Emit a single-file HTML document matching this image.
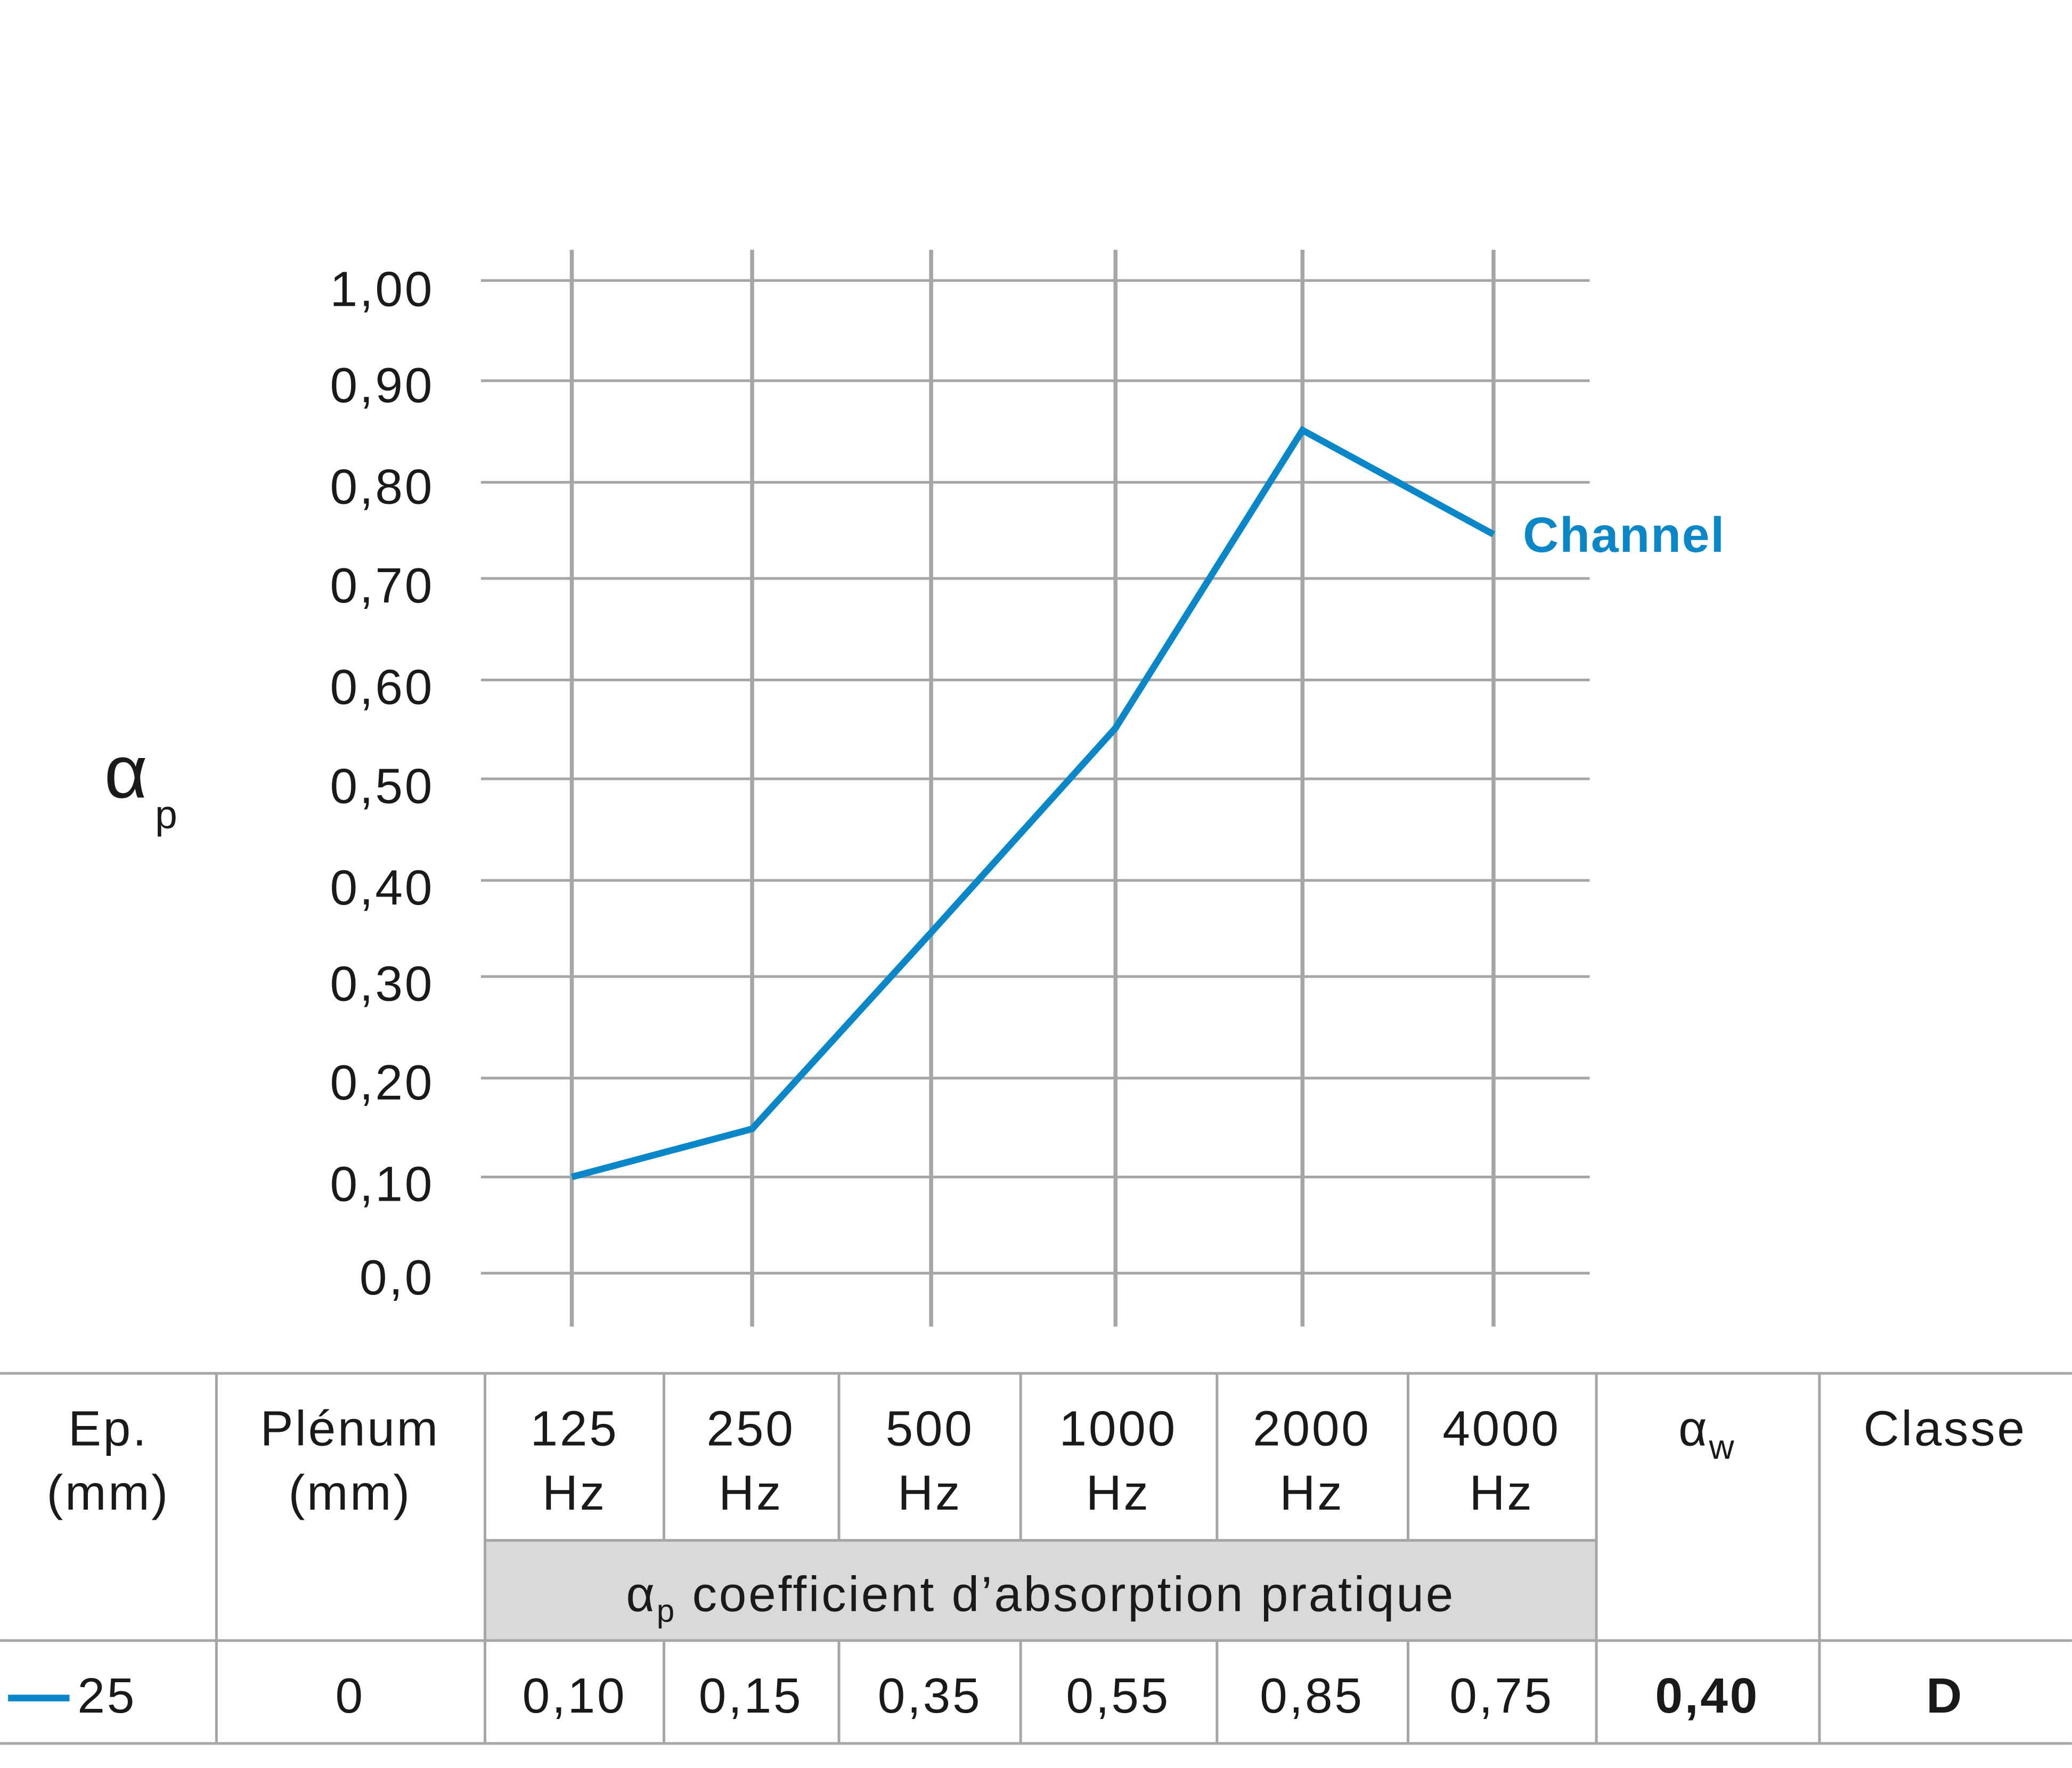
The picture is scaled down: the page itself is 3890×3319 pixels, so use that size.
<!DOCTYPE html>
<html><head><meta charset="utf-8"><style>html,body{margin:0;padding:0;background:#fff}svg{display:block}</style></head>
<body>
<svg xmlns="http://www.w3.org/2000/svg" width="3890" height="3319" viewBox="0 0 1551 1323.4" font-family="Liberation Sans, DejaVu Sans, sans-serif" fill="#1a1a1a">
<g stroke="#a6a6a6" stroke-width="2">
<line x1="360" y1="210" x2="1190" y2="210"/><line x1="360" y1="285" x2="1190" y2="285"/><line x1="360" y1="361" x2="1190" y2="361"/><line x1="360" y1="433" x2="1190" y2="433"/><line x1="360" y1="509" x2="1190" y2="509"/><line x1="360" y1="583" x2="1190" y2="583"/><line x1="360" y1="659" x2="1190" y2="659"/><line x1="360" y1="731" x2="1190" y2="731"/><line x1="360" y1="807" x2="1190" y2="807"/><line x1="360" y1="881" x2="1190" y2="881"/><line x1="360" y1="953" x2="1190" y2="953"/>
</g>
<g stroke="#a6a6a6" stroke-width="3">
<line x1="428" y1="187" x2="428" y2="993"/><line x1="563" y1="187" x2="563" y2="993"/><line x1="697" y1="187" x2="697" y2="993"/><line x1="835" y1="187" x2="835" y2="993"/><line x1="975" y1="187" x2="975" y2="993"/><line x1="1118" y1="187" x2="1118" y2="993"/>
</g>
<polyline points="428,881 563,845 697,698 835,545 975,322 1118,400" fill="none" stroke="#0a87c8" stroke-width="5"/>
<text x="1140" y="413" font-size="37" font-weight="bold" fill="#0a87c8" letter-spacing="0.8">Channel</text>
<g font-size="37" text-anchor="end" letter-spacing="1.5">
<text x="325" y="229">1,00</text><text x="325" y="301">0,90</text><text x="325" y="377">0,80</text><text x="325" y="451">0,70</text><text x="325" y="527">0,60</text><text x="325" y="601">0,50</text><text x="325" y="677">0,40</text><text x="325" y="749">0,30</text><text x="325" y="823">0,20</text><text x="325" y="899">0,10</text><text x="325" y="969">0,0</text>
</g>
<text x="78" y="597" font-size="56">α</text><text x="116" y="620" font-size="30">p</text>
<rect x="363" y="1153" width="832" height="75" fill="#d9d9d9"/>
<g stroke="#a6a6a6" stroke-width="2">
<line x1="0" y1="1028" x2="1551" y2="1028"/><line x1="363" y1="1153" x2="1195" y2="1153"/><line x1="0" y1="1228" x2="1551" y2="1228"/><line x1="0" y1="1305" x2="1551" y2="1305"/>
<line x1="162" y1="1028" x2="162" y2="1305"/><line x1="363" y1="1028" x2="363" y2="1305"/><line x1="497" y1="1028" x2="497" y2="1153"/><line x1="628" y1="1028" x2="628" y2="1153"/><line x1="764" y1="1028" x2="764" y2="1153"/><line x1="911" y1="1028" x2="911" y2="1153"/><line x1="1054" y1="1028" x2="1054" y2="1153"/>
<line x1="497" y1="1228" x2="497" y2="1305"/><line x1="628" y1="1228" x2="628" y2="1305"/><line x1="764" y1="1228" x2="764" y2="1305"/><line x1="911" y1="1228" x2="911" y2="1305"/><line x1="1054" y1="1228" x2="1054" y2="1305"/>
<line x1="1195" y1="1028" x2="1195" y2="1305"/><line x1="1362" y1="1028" x2="1362" y2="1305"/>
</g>
<g font-size="37" text-anchor="middle" letter-spacing="1.5">
<text x="81" y="1082">Ep.</text><text x="81" y="1130">(mm)</text>
<text x="262" y="1082">Plénum</text><text x="262" y="1130">(mm)</text>
<text x="430" y="1082">125</text><text x="430" y="1130">Hz</text>
<text x="562" y="1082">250</text><text x="562" y="1130">Hz</text>
<text x="696" y="1082">500</text><text x="696" y="1130">Hz</text>
<text x="837" y="1082">1000</text><text x="837" y="1130">Hz</text>
<text x="982" y="1082">2000</text><text x="982" y="1130">Hz</text>
<text x="1124" y="1082">4000</text><text x="1124" y="1130">Hz</text>
<text x="1278" y="1082">α<tspan font-size="26" dy="10">w</tspan></text>
<text x="1456" y="1082">Classe</text>
<text x="779" y="1206">α<tspan font-size="24" dy="8">p</tspan><tspan dy="-8"> coefficient d’absorption pratique</tspan></text>
<text x="80" y="1282">25</text>
<text x="262" y="1282">0</text>
<text x="430" y="1282">0,10</text><text x="562" y="1282">0,15</text><text x="696" y="1282">0,35</text><text x="837" y="1282">0,55</text><text x="982" y="1282">0,85</text><text x="1124" y="1282">0,75</text>
<text x="1278" y="1282" font-weight="bold">0,40</text><text x="1456" y="1282" font-weight="bold">D</text>
</g>
<line x1="6" y1="1271" x2="52" y2="1271" stroke="#0a87c8" stroke-width="5"/>
</svg>
</body></html>
